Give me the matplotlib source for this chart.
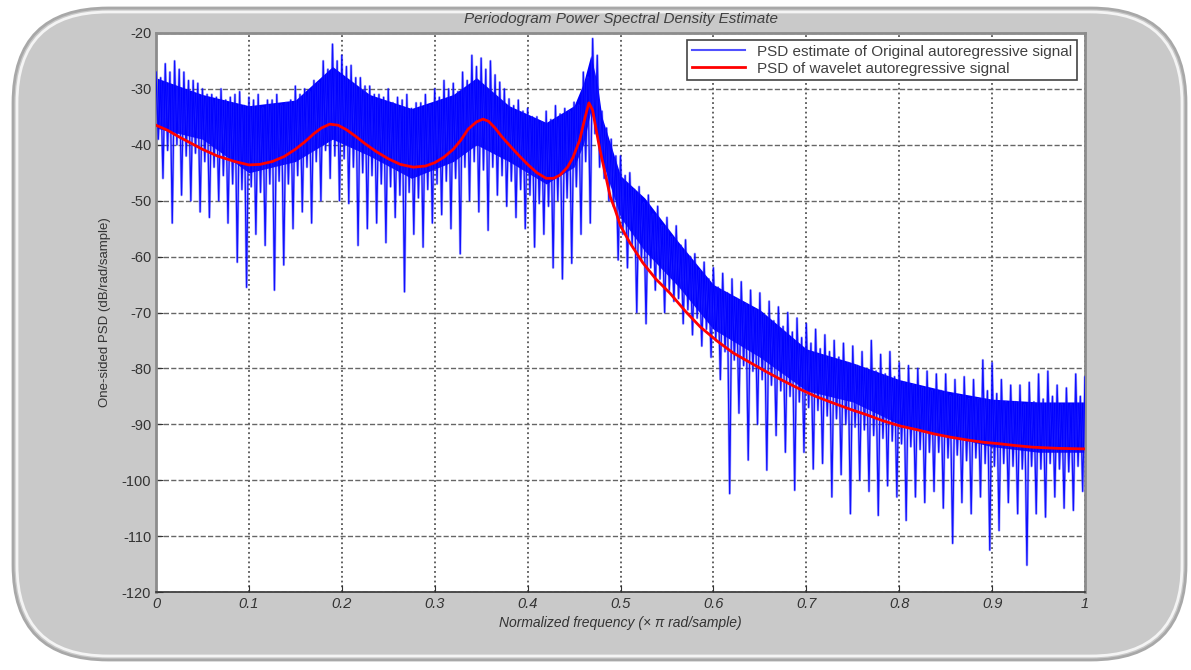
import numpy as np
import matplotlib.pyplot as plt
from matplotlib.patches import FancyBboxPatch
from matplotlib.lines import Line2D

plt.rcParams['font.family'] = ['Liberation Sans', 'DejaVu Sans']
plt.rcParams['axes.unicode_minus'] = False

# periodogram of the original signal (dB/rad/sample)
# one group of four samples per 0.01 step: high spike, low, high, deep dip
freq = np.linspace(0, 1, 101)
psd_top = [-27, -25.5, -25, -27, -28.5, -30, -31, -30, -31.5, -30.5,
           -31.5, -31, -32, -31, -32.5, -29.5, -30, -28.5, -25, -22,
           -24, -25.8, -28, -29.5, -31, -30, -31.5, -31, -32.5, -31,
           -30, -28.5, -29, -27, -24, -24.5, -25, -28.8, -31.8, -32,
           -33.5, -35, -34, -33, -33.5, -32.4, -27, -21, -34, -39,
           -42, -45, -47.5, -49, -51, -53, -54.5, -57, -59.5, -61,
           -62, -63, -64, -64.5, -66, -66.5, -68, -69, -70, -71,
           -72, -73, -74, -75, -75.5, -76, -77, -75, -77.5, -77,
           -79, -79.5, -80, -80.5, -81, -81, -82, -81.5, -82, -78.5,
           -79, -82, -83, -83, -82.5, -81, -80.5, -83, -83.5, -81, -81.5]
psd_low = [-39, -41, -40, -42, -41.5, -43, -44, -45.5, -47, -48,
           -47.5, -48.5, -47, -46.5, -47, -45.5, -44, -43, -41, -42,
           -42.5, -44, -45, -45.5, -47, -47.5, -49, -48.5, -49.5, -48,
           -47, -46.5, -46, -44, -43, -44.5, -44, -45.5, -46.5, -48,
           -49, -50.5, -51, -50, -49.5, -47.5, -43, -38, -46, -51,
           -56, -58, -60.5, -62, -64, -66, -67.5, -69.5, -71, -73,
           -75, -77, -78.5, -79.5, -80.5, -82, -83, -84, -85, -86,
           -87, -87.5, -88.5, -89, -90, -90.5, -91, -92, -92.5, -93,
           -93.5, -94, -94.5, -95, -95, -96, -95.5, -96.5, -96, -97,
           -97.5, -97, -97.5, -98, -97.5, -98, -97, -98, -98.5, -97.5, -97]
psd_high = [-28, -27, -26.5, -28.5, -29, -31, -31.5, -32, -31, -33,
            -32, -33.5, -32, -33, -32, -31, -30.5, -29, -26.5, -25,
            -26, -28, -29.5, -31, -31.5, -32.5, -32, -33.5, -32.5, -33,
            -31.5, -30, -30.5, -28.5, -26, -26.5, -27.5, -30, -33, -34,
            -35, -36, -35.5, -34.5, -34, -33, -28, -24, -37, -42,
            -45.5, -48, -50.5, -52.5, -54.5, -56.5, -58, -60, -62.5, -64,
            -65.5, -66.5, -67.5, -68.5, -69.5, -70.5, -71.5, -72.5, -73.5, -74.5,
            -75.5, -76.5, -77, -78, -79, -79.5, -80, -80.5, -81, -81.5,
            -82.5, -83, -83.5, -84, -84, -85, -85, -85.5, -85.5, -84,
            -84.5, -86, -86, -86.5, -86, -85.5, -85, -86.5, -86.5, -85, -85.5]
psd_dip = [-46, -54, -49, -50, -52, -53, -50, -54, -61, -65.5,
           -56, -58, -66, -61.5, -55, -52, -54, -50, -46, -50,
           -50.5, -58, -55, -54, -57.5, -53, -66.3, -56, -58.3, -54,
           -52.5, -55, -59.5, -50, -52, -55.3, -49, -51, -53, -55,
           -58.3, -56, -62, -64, -61.2, -56, -54, -44, -50, -60.6,
           -62, -70, -72, -66, -70, -68, -72, -74, -76, -78,
           -82, -102.4, -88, -96.4, -90, -98.2, -92, -95, -101.8, -95,
           -98, -97, -103, -99, -106, -100, -102, -106.3, -101, -103,
           -107.2, -103, -104, -102, -105, -111.3, -104, -106, -103, -112.5,
           -109, -104, -106, -115.2, -106, -106.6, -103, -105, -105.4, -102, -98]

# solid core of the noisy estimate
band_freq = [0.0, 0.05, 0.10, 0.15, 0.19, 0.23, 0.275, 0.32, 0.345, 0.38,
             0.42, 0.45, 0.46, 0.468, 0.475, 0.48, 0.50, 0.526, 0.562, 0.60,
             0.65, 0.70, 0.75, 0.80, 0.85, 0.90, 0.95, 1.0]
band_hi = [-28, -31, -33, -32, -26, -31, -33.5, -31, -28, -33,
           -36, -33, -29, -24, -29, -35, -45.5, -49.5, -57.3, -65,
           -69.5, -76.5, -79, -82, -84, -85.5, -86, -86]
band_lo = [-37, -39, -45, -43, -39, -42, -46, -43, -40, -43,
           -47, -44, -40, -34, -38, -42.7, -53, -59, -65.3, -73,
           -78, -84, -86, -90, -92, -94, -95, -95]

# PSD of the wavelet autoregressive signal
wav_freq = [0.0, 0.0125, 0.025, 0.0375, 0.05, 0.066, 0.085, 0.10, 0.112, 0.125,
            0.138, 0.15, 0.16, 0.17, 0.178, 0.187, 0.196, 0.205, 0.215, 0.225,
            0.237, 0.25, 0.263, 0.277, 0.29, 0.30, 0.31, 0.32, 0.328, 0.336,
            0.345, 0.352, 0.358, 0.365, 0.372, 0.38, 0.39, 0.40, 0.41, 0.42,
            0.428, 0.435, 0.443, 0.449, 0.456, 0.462, 0.466, 0.47, 0.474, 0.478,
            0.484, 0.489, 0.494, 0.50, 0.51, 0.524, 0.538, 0.553, 0.57, 0.586,
            0.604, 0.621, 0.64, 0.657, 0.675, 0.693, 0.71, 0.729, 0.747, 0.765,
            0.783, 0.801, 0.82, 0.837, 0.855, 0.873, 0.89, 0.909, 0.925, 0.944,
            0.97, 1.0]
wav_psd = [-36.5, -37.4, -38.6, -39.7, -40.8, -42.0, -43.0, -43.6, -43.5, -43.0,
           -42.1, -40.8, -39.5, -38.0, -37.0, -36.3, -36.5, -37.3, -38.5, -39.8,
           -41.2, -42.5, -43.5, -44.0, -43.8, -43.2, -42.2, -40.8, -39.2, -37.2,
           -35.9, -35.4, -35.8, -37.0, -38.5, -40.0, -41.8, -43.5, -45.0, -46.0,
           -46.0, -45.4, -44.0, -42.2, -39.2, -35.0, -32.5, -33.8, -37.5, -41.0,
           -45.5, -49.3, -51.5, -54.5, -57.5, -61.1, -64.0, -66.5, -69.8, -72.6,
           -75.1, -77.2, -79.0, -80.6, -82.2, -83.7, -85.0, -86.2, -87.3, -88.3,
           -89.4, -90.3, -91.0, -91.7, -92.3, -92.8, -93.2, -93.5, -93.8, -94.1,
           -94.3, -94.4]

W, H = 1191, 670
fig = plt.figure(figsize=(W / 100, H / 100), dpi=100)
fig.patch.set_facecolor('white')

# rounded grey frame behind the plot
bg = fig.add_axes([0, 0, 1, 1])
bg.set_xlim(0, W)
bg.set_ylim(H, 0)
bg.axis('off')
bg.add_patch(FancyBboxPatch((13, 8), 1173, 652,
                            boxstyle='round,pad=0,rounding_size=95',
                            facecolor='#c9c9c9', edgecolor='#a8a8a8', lw=2))
bg.add_patch(FancyBboxPatch((17, 12), 1165, 644,
                            boxstyle='round,pad=0,rounding_size=91',
                            facecolor='none', edgecolor='white', lw=2, alpha=0.8))

ax = fig.add_axes([156 / W, 1 - 592 / H, (1085 - 156) / W, (592 - 33) / H])
ax.set_facecolor('white')

ax.fill_between(band_freq, band_lo, band_hi, color='#0000ff', lw=0, zorder=2)

n = len(freq)
zz_x = np.empty(4 * n)
zz_y = np.empty(4 * n)
for k, (off, vals) in enumerate([(0, psd_top), (0.0025, psd_low),
                                 (0.005, psd_high), (0.0075, psd_dip)]):
    zz_x[k::4] = freq + off
    zz_y[k::4] = vals
ax.plot(zz_x, zz_y, color='#4040ff', lw=1.8, alpha=0.45, zorder=3)
ax.plot(zz_x, zz_y, color='#0000ff', lw=0.9, alpha=0.9, zorder=3)

ax.plot(wav_freq, wav_psd, color='red', lw=2, zorder=4)

ax.set_xlim(0, 1)
ax.set_ylim(-120, -20)
ax.set_xticks(np.arange(0, 1.01, 0.1))
ax.set_xticklabels(['0', '0.1', '0.2', '0.3', '0.4', '0.5', '0.6', '0.7', '0.8', '0.9', '1'],
                   style='italic')
ax.set_yticks(np.arange(-120, -19, 10))
ax.tick_params(direction='in', length=5, labelsize=10.5, colors='#333333')
ax.xaxis.grid(True, linestyle=':', color='#555555', lw=1.3)
ax.yaxis.grid(True, linestyle='--', color='#666666', lw=1.0)
ax.set_axisbelow(True)
for side in ['left', 'right', 'top']:
    ax.spines[side].set_color('#8c8c8c')
    ax.spines[side].set_linewidth(2)
ax.spines['bottom'].set_color('#333333')
ax.spines['bottom'].set_linewidth(1.2)

ax.set_title('Periodogram Power Spectral Density Estimate', fontsize=11,
             style='italic', color='#404040', pad=7)
ax.set_xlabel('Normalized frequency (\u00d7 \u03c0 rad/sample)', fontsize=10,
              style='italic', color='#333333', labelpad=4)
ax.set_ylabel('One-sided PSD (dB/rad/sample)', fontsize=9.5, color='#333333', labelpad=8)

handles = [Line2D([], [], color='#5050ff', lw=1.5),
           Line2D([], [], color='red', lw=2)]
leg = ax.legend(handles, ['PSD estimate of Original autoregressive signal',
                          'PSD of wavelet autoregressive signal'],
                loc='upper right', bbox_to_anchor=(1077 / W, 1 - 40 / H),
                bbox_transform=fig.transFigure, borderaxespad=0, fancybox=False,
                framealpha=1, edgecolor='#444444', fontsize=11, handlelength=3.5,
                labelspacing=0.2, borderpad=0.3)
leg.get_frame().set_linewidth(1.2)
for t in leg.get_texts():
    t.set_color('#404040')
leg.set_zorder(10)

fig.savefig('out.png', dpi=100)
